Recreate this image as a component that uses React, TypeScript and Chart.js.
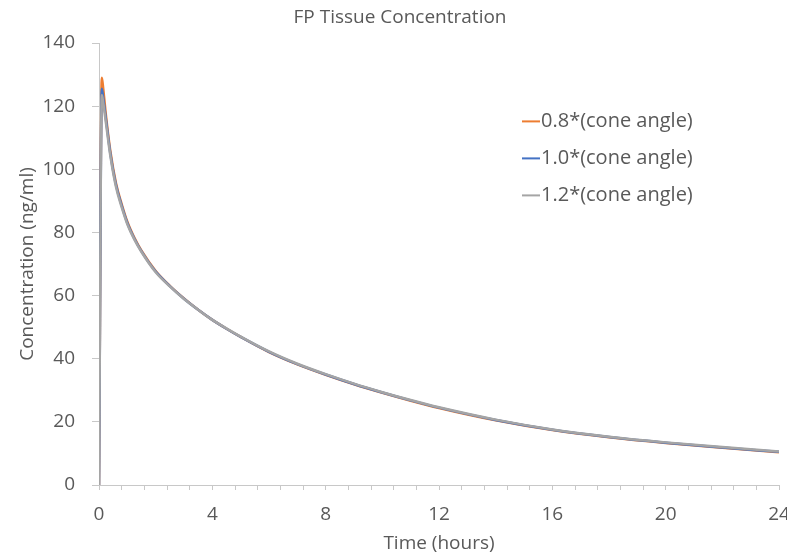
import React, { useEffect, useRef } from "react";
import { Chart, registerables } from "chart.js";

Chart.register(...registerables);

const chartTitle = "FP Tissue Concentration";
const xAxisTitle = "Time (hours)";
const yAxisTitle = "Concentration (ng/ml)";

const times = [0, 0.1, 0.15, 0.25, 0.4, 0.6, 0.8, 1.0, 1.25, 1.5, 2, 2.5, 3, 3.5, 4, 4.5, 5, 6, 7, 8, 9, 10, 11, 12, 14, 16, 18, 20, 22, 24];

const seriesLabels = ["0.8*(cone angle)", "1.0*(cone angle)", "1.2*(cone angle)"];
const seriesColors = ["#ED7D31", "#4472C4", "#A5A5A5"];

const series08 = [0, 129, 125.5, 116.7, 105.8, 95.6, 89.0, 83.4, 78.3, 74.2, 67.8, 63.1, 59.1, 55.5, 52.3, 49.5, 46.9, 42.1, 38.2, 34.9, 31.9, 29.2, 26.7, 24.4, 20.5, 17.4, 15.1, 13.3, 11.8, 10.4];
const series10 = [0, 125.5, 122.5, 115.5, 105, 95, 88.5, 83.0, 78.0, 74.0, 67.6, 63, 59, 55.5, 52.3, 49.5, 46.9, 42.2, 38.3, 35.0, 32.0, 29.3, 26.8, 24.5, 20.6, 17.5, 15.2, 13.4, 11.9, 10.5];
const series12 = [0, 123.5, 121, 114.3, 104.3, 94.4, 88.0, 82.6, 77.7, 73.8, 67.4, 62.9, 58.9, 55.5, 52.3, 49.6, 47.0, 42.3, 38.4, 35.1, 32.1, 29.4, 26.9, 24.6, 20.7, 17.6, 15.3, 13.5, 12.0, 10.6];

const seriesValues = [series08, series10, series12];

const xTickLabels = [0, 4, 8, 12, 16, 20, 24];
const yTickLabels = [0, 20, 40, 60, 80, 100, 120, 140];

const FONT = "'Open Sans', 'DejaVu Sans', sans-serif";
const TEXT = "#595959";
const AXIS = "#C8C8C8";

const titlePlugin = {
  id: "fixedTitle",
  afterDraw(chart: any) {
    const ctx = chart.ctx;
    ctx.save();
    ctx.font = `19px ${FONT}`;
    ctx.fillStyle = TEXT;
    ctx.textAlign = "center";
    ctx.textBaseline = "alphabetic";
    ctx.fillText(chartTitle, 400, 22.7);
    ctx.restore();
  },
};

const legendPlugin = {
  id: "insideLegend",
  afterDraw(chart: any) {
    const ctx = chart.ctx;
    ctx.save();
    ctx.font = `20px ${FONT}`;
    ctx.textBaseline = "middle";
    ctx.textAlign = "left";
    chart.data.datasets.forEach((ds: any, i: number) => {
      const y = 121.4 + i * 37;
      ctx.strokeStyle = ds.borderColor;
      ctx.lineWidth = 2;
      ctx.beginPath();
      ctx.moveTo(522, y);
      ctx.lineTo(540, y);
      ctx.stroke();
      ctx.fillStyle = TEXT;
      ctx.fillText(ds.label, 541, y);
    });
    ctx.restore();
  },
};

export default function App() {
  const ref = useRef<HTMLCanvasElement>(null);

  useEffect(() => {
    document.body.style.margin = "0";
    const datasets = seriesLabels.map((label, i) => ({
      label,
      data: times.map((t, j) => ({ x: t, y: seriesValues[i][j] })),
      borderColor: seriesColors[i],
      backgroundColor: seriesColors[i],
      borderWidth: 2.5,
      pointRadius: 0,
      fill: false,
      cubicInterpolationMode: "monotone" as const,
      order: 3 - i,
    }));

    const chart = new Chart(ref.current!, {
      type: "line",
      data: { datasets },
      plugins: [titlePlugin, legendPlugin],
      options: {
        responsive: false,
        animation: false,
        layout: { padding: { top: 43, right: 14, left: 0, bottom: 0 } },
        plugins: {
          legend: { display: false },
          title: { display: false },
          tooltip: { enabled: false },
        },
        scales: {
          x: {
            type: "linear",
            min: 0,
            max: 24,
            afterFit: (s: any) => {
              s.height = 72;
              s.paddingRight = 11;
              s.paddingLeft = 6;
            },
            ticks: {
              stepSize: 0.8,
              autoSkip: false,
              maxRotation: 0,
              padding: 13,
              color: TEXT,
              font: { family: FONT, size: 19 },
              callback: (v: any) => {
                const n = Number(v);
                const hit = xTickLabels.find((l) => Math.abs(l - n) < 1e-6);
                return hit === undefined ? "" : String(hit);
              },
            },
            grid: {
              drawOnChartArea: false,
              drawTicks: true,
              tickLength: 5,
              color: AXIS,
            },
            border: { display: true, color: AXIS, width: 1 },
            title: {
              display: true,
              text: xAxisTitle,
              color: TEXT,
              font: { family: FONT, size: 19 },
              padding: { top: 0, bottom: 2 },
            },
          },
          y: {
            min: 0,
            max: 140,
            afterFit: (s: any) => {
              s.width = 99;
            },
            ticks: {
              stepSize: 20,
              padding: 17,
              color: TEXT,
              font: { family: FONT, size: 19 },
              callback: (v: any) => {
                const n = Number(v);
                const hit = yTickLabels.find((l) => Math.abs(l - n) < 1e-6);
                return hit === undefined ? "" : String(hit);
              },
            },
            grid: {
              drawOnChartArea: false,
              drawTicks: true,
              tickLength: 7,
              color: AXIS,
            },
            border: { display: true, color: AXIS, width: 1 },
            title: {
              display: true,
              text: yAxisTitle,
              color: TEXT,
              font: { family: FONT, size: 19 },
              padding: { top: 16, bottom: 0 },
            },
          },
        },
      },
    });
    return () => chart.destroy();
  }, []);

  return (
    <div style={{ width: 787, height: 557, overflow: "hidden", background: "#fff" }}>
      <canvas ref={ref} width={793} height={557} style={{ display: "block" }} />
    </div>
  );
}
